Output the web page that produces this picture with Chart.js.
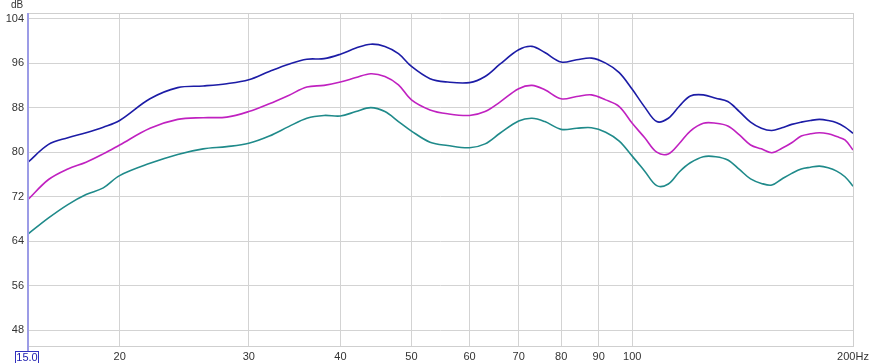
<!DOCTYPE html>
<html>
<head>
<meta charset="utf-8">
<script src="https://cdn.jsdelivr.net/npm/chart.js@4.4.1/dist/chart.umd.min.js"></script>
<style>
  html, body { margin: 0; padding: 0; background: #ffffff; }
  #wrap { width: 881px; height: 363px; position: relative; }
</style>
</head>
<body>
<div id="wrap"><canvas id="c" width="881" height="363"></canvas></div>
<script>
// Frequencies (Hz)
const freqs = [15,16,17,18,19,20,22,24,26,28,30,32,34,36,38,40,42,44,46,48,50,53,56,60,63,66,70,73,76,80,84,88,92,96,100,104,108,112,116,120,125,130,135,140,145,150,155,160,165,170,175,180,185,190,195,200];
// Series values (dB)
const blueSeries = [78.2,81.4,82.6,83.5,84.5,85.7,89.6,91.6,91.9,92.3,93.0,94.5,95.8,96.7,96.8,97.6,98.7,99.4,99.0,97.7,95.4,93.2,92.6,92.5,93.6,95.8,98.4,99.0,97.9,96.2,96.6,96.9,96.0,94.3,91.3,88.1,85.5,86.1,88.3,90.1,90.3,89.7,89.1,87.3,85.4,84.3,83.9,84.4,85.0,85.4,85.7,85.9,85.7,85.3,84.5,83.4];
const magentaSeries = [71.5,75.1,77.0,78.2,79.7,81.3,84.3,85.9,86.2,86.3,87.3,88.7,90.2,91.7,92.0,92.6,93.4,94.1,93.6,92.1,89.4,87.6,86.9,86.6,87.3,89.0,91.4,92.0,91.2,89.6,90.0,90.3,89.4,88.2,85.2,82.6,80.0,79.7,81.6,83.8,85.2,85.2,84.7,83.1,81.3,80.6,79.9,80.7,81.7,82.9,83.3,83.5,83.3,82.8,82.2,80.4];
const tealSeries = [65.3,68.2,70.6,72.4,73.6,75.8,78.0,79.6,80.6,81.0,81.6,82.9,84.6,86.1,86.6,86.5,87.3,88.0,87.3,85.5,83.8,81.8,81.2,80.8,81.5,83.4,85.6,86.1,85.5,84.1,84.3,84.4,83.6,82.0,79.3,76.6,74.0,74.3,76.5,78.1,79.2,79.2,78.6,76.9,75.2,74.4,74.1,75.2,76.2,77.0,77.3,77.5,77.2,76.6,75.6,73.9];
// Tick values
const xTicks = [15,20,30,40,50,60,70,80,90,100,200];
const yTicks = [48,56,64,72,80,88,96,104];

const toPts = vals => freqs.map((f, i) => ({ x: f, y: vals[i] }));

const decor = {
  id: 'decor',
  afterDraw(chart) {
    const { ctx, chartArea: a, scales } = chart;
    ctx.save();
    // top and right border
    ctx.strokeStyle = '#cfcfcf';
    ctx.lineWidth = 1;
    ctx.beginPath();
    ctx.moveTo(a.left, a.top + 0.5); ctx.lineTo(a.right, a.top + 0.5);
    ctx.moveTo(a.right + 0.5, a.top); ctx.lineTo(a.right + 0.5, a.bottom);
    ctx.stroke();
    // left axis line
    ctx.strokeStyle = '#9c9ce6';
    ctx.lineWidth = 2;
    ctx.beginPath();
    ctx.moveTo(a.left, a.top); ctx.lineTo(a.left, 351);
    ctx.stroke();
    // dB label
    ctx.fillStyle = '#333333';
    ctx.font = '10px "Liberation Sans", Arial, sans-serif';
    ctx.textAlign = 'center';
    ctx.textBaseline = 'middle';
    ctx.fillText('dB', 17, 5);
    // boxed start label
    const x0 = scales.x.getPixelForValue(15);
    ctx.fillStyle = '#ffffff';
    ctx.fillRect(x0 - 13, 351, 24, 12);
    ctx.strokeStyle = '#3030c0';
    ctx.lineWidth = 1;
    ctx.strokeRect(x0 - 12.5, 351.5, 23, 12);
    ctx.fillStyle = '#2020b0';
    ctx.font = '11px "Liberation Sans", Arial, sans-serif';
    ctx.textBaseline = 'alphabetic';
    ctx.fillText('15.0', x0 - 1, 361);
    ctx.restore();
  }
};

new Chart(document.getElementById('c'), {
  type: 'line',
  data: {
    datasets: [
      { data: toPts(blueSeries), borderColor: '#1c1ca6', borderWidth: 1.6 },
      { data: toPts(magentaSeries), borderColor: '#c021c0', borderWidth: 1.6 },
      { data: toPts(tealSeries), borderColor: '#1f8a8a', borderWidth: 1.6 }
    ]
  },
  options: {
    responsive: false,
    animation: false,
    devicePixelRatio: 1,
    layout: { padding: { top: 13, right: 28, left: 0, bottom: 0 } },
    elements: { point: { radius: 0 }, line: { tension: 0.35 } },
    plugins: { legend: { display: false }, tooltip: { enabled: false } },
    scales: {
      x: {
        type: 'logarithmic',
        min: 15, max: 200,
        afterBuildTicks: s => { s.ticks = xTicks.map(v => ({ value: v })); },
        afterFit: s => { s.height = 17; },
        grid: { color: '#d3d3d3', drawTicks: false },
        border: { display: true, color: '#cfcfcf' },
        ticks: {
          autoSkip: false, maxRotation: 0, padding: 4,
          color: '#333333',
          font: { family: '"Liberation Sans", Arial, sans-serif', size: 11 },
          callback: v => v === 15 ? '' : (v === 200 ? '200Hz' : String(v))
        }
      },
      y: {
        min: 45.2, max: 105,
        afterBuildTicks: s => { s.ticks = yTicks.map(v => ({ value: v })); },
        afterFit: s => { s.width = 28; },
        grid: { color: '#d3d3d3', drawTicks: false },
        border: { display: false },
        ticks: {
          padding: 4,
          color: '#333333',
          font: { family: '"Liberation Sans", Arial, sans-serif', size: 11 }
        }
      }
    }
  },
  plugins: [decor]
});
</script>
</body>
</html>
